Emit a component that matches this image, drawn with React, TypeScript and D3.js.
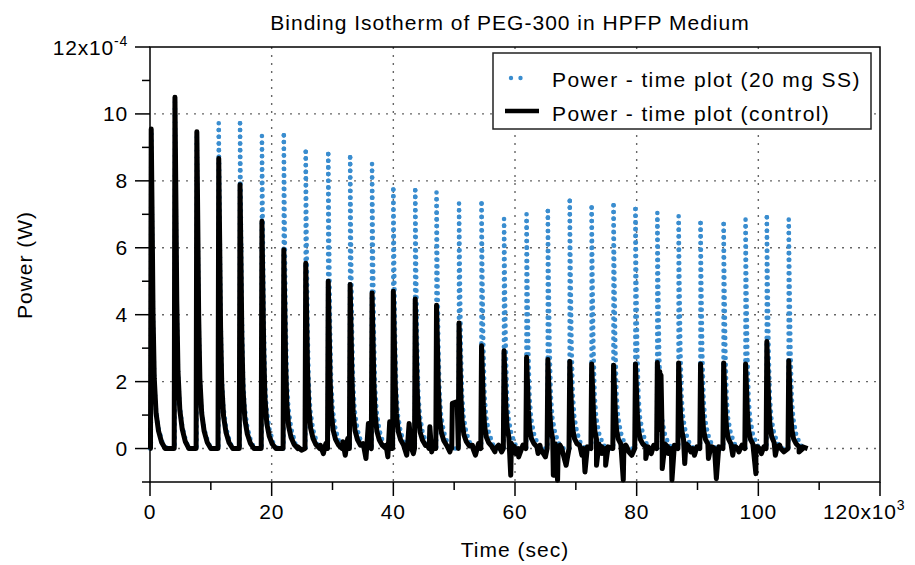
import { useEffect, useRef } from 'react'
import * as d3 from 'd3'

const W = 915
const H = 565
const FONT = "'Liberation Sans', Arial, Helvetica, sans-serif"

// injection times, x10^3 s
const injectionTimes = [
  0.2, 4.1, 7.7, 11.3, 14.8, 18.4, 22.0, 25.6, 29.3, 32.9,
  36.5, 40.0, 43.6, 47.1, 50.8, 54.5, 58.2, 61.9, 65.4, 69.0,
  72.6, 76.2, 79.8, 83.4, 86.9, 90.5, 94.3, 97.9, 101.4, 105.0,
]
// peak power, x10^-4 W
const controlPeaks = [
  9.55, 10.5, 9.47, 8.67, 7.88, 6.79, 5.94, 5.54, 5.0, 4.9,
  4.65, 4.7, 4.47, 4.28, 3.75, 3.07, 2.92, 2.73, 2.66, 2.6,
  2.53, 2.49, 2.53, 2.57, 2.56, 2.53, 2.56, 2.53, 3.2, 2.62,
]
const ssPeaks = [
  9.4, 10.35, 9.3, 9.72, 9.72, 9.34, 9.36, 8.87, 8.8, 8.7,
  8.5, 7.74, 7.72, 7.65, 7.32, 7.32, 6.86, 7.0, 7.1, 7.4,
  7.2, 7.27, 7.16, 7.04, 6.94, 6.74, 6.71, 6.84, 6.91, 6.84,
]
// shape of the decay after each injection (offset x10^3 s, fraction of peak)
const controlDecayOffsets = [0.15, 0.3, 0.5, 0.8, 1.2, 1.7, 2.3]
const controlDecayFractions = [0.72, 0.42, 0.22, 0.11, 0.055, 0.02, 0]
const ssDecayOffsets = [0.15, 0.3, 0.5, 0.75, 1.2, 1.9, 2.6]
const ssDecayFractions = [0.7, 0.42, 0.22, 0.13, 0.065, 0.015, 0]

// baseline wiggles and negative spikes of the control run
const controlNoise: [number, number][] = [
  [24.3, 0.05], [24.9, -0.05],
  [28.0, 0.1], [28.5, -0.15], [28.9, 0.15],
  [31.7, 0.2], [32.1, -0.2], [32.5, 0.3],
  [35.0, 0.15], [35.5, -0.3], [35.9, 0.75], [36.2, 0.05],
  [38.8, 0.1], [39.1, -0.25], [39.4, 0.8], [39.7, 0.0],
  [42.2, -0.2], [42.6, 0.75], [42.9, 0.05], [43.3, -0.15],
  [45.7, 0.1], [46.0, 0.65], [46.3, -0.1], [46.7, 0.2],
  [49.3, -0.1], [49.6, 0.0], [49.7, 1.35], [50.5, 1.4],
  [53.0, 0.1], [53.5, -0.2], [54.0, 0.15],
  [56.7, -0.1], [57.3, 0.1], [57.8, -0.1],
  [59.3, -0.8], [59.6, 0.05], [60.1, -0.15], [60.6, -0.25], [61.3, 0.1],
  [63.8, -0.15], [64.1, 0.1], [64.5, -0.1], [65.0, -0.25],
  [66.3, -0.8], [66.6, 0.05], [67.0, -0.95], [67.4, 0.1], [67.9, -0.15], [68.4, -0.5],
  [70.6, 0.1], [71.0, -0.2], [71.5, -0.7], [71.9, 0.05],
  [73.4, -0.5], [73.8, 0.1], [74.3, -0.15], [74.9, -0.5], [75.3, 0.05],
  [77.8, -0.94], [78.2, 0.1], [78.7, -0.1], [79.2, -0.2],
  [81.5, -0.3], [81.9, 0.05], [82.4, -0.15], [82.8, 0.1],
  [83.8, 2.3], [84.0, 2.2],
  [84.2, -0.6], [84.6, 0.05], [85.2, -0.15], [85.8, -0.94], [86.2, 0.1],
  [87.9, -0.45], [88.4, 0.1], [88.9, -0.1], [89.5, -0.2], [89.9, 0.05],
  [91.8, -0.3], [92.4, 0.05], [93.1, -0.9], [93.5, 0.05],
  [95.8, -0.2], [96.3, 0.05], [96.8, -0.1], [97.3, 0.1],
  [99.6, -0.75], [99.9, 0.05], [100.5, -0.15], [100.9, 0.05],
  [102.8, -0.2], [103.5, 0.1], [104.2, -0.1],
  [106.7, -0.1], [107.3, 0.05],
]
const controlEnd = 108.1
const ssEnd = 107.7

const xMajor = [0, 20, 40, 60, 80, 100, 120]
const xMinor = [10, 30, 50, 70, 90, 110]
const yMajor = [0, 2, 4, 6, 8, 10, 12]
const yMinor = [-1, 1, 3, 5, 7, 9, 11]
const xGrid = [20, 40, 60, 80, 100]
const yGrid = [0, 2, 4, 6, 8, 10]

const BLUE = '#3a8dcf'

function buildSeries(
  heights: number[],
  offsets: number[],
  fractions: number[],
  extra: [number, number][],
  end: number,
  lead: number,
): [number, number][] {
  const pts: [number, number][] = [[0, 0]]
  injectionTimes.forEach((t, i) => {
    pts.push([t - lead, 0])
    pts.push([t, heights[i]])
    offsets.forEach((o, k) => pts.push([t + o, heights[i] * fractions[k]]))
  })
  extra.forEach((p) => pts.push(p))
  pts.push([end, 0])
  return pts.sort((a, b) => a[0] - b[0])
}

export default function App() {
  const svgRef = useRef<SVGSVGElement>(null)

  useEffect(() => {
    const svgEl = svgRef.current
    if (!svgEl) return
    const svg = d3.select(svgEl)
    svg.selectAll('*').remove()

    const x = d3.scaleLinear().domain([0, 120]).range([150, 880])
    const y = d3.scaleLinear().domain([-1, 12]).range([482, 47])

    const text = (sel: any) =>
      sel.attr('font-family', FONT).attr('font-size', 21).attr('fill', '#000')

    // grid
    const grid = svg.append('g').attr('stroke', '#666').attr('stroke-width', 1.4).attr('stroke-dasharray', '2 6')
    yGrid.forEach((v) => {
      grid.append('line').attr('x1', x(0) + 4).attr('x2', x(120)).attr('y1', y(v)).attr('y2', y(v))
    })
    xGrid.forEach((v) => {
      grid.append('line').attr('y1', y(12)).attr('y2', y(-1)).attr('x1', x(v)).attr('x2', x(v))
    })

    const line = d3
      .line<[number, number]>()
      .x((d) => x(d[0]))
      .y((d) => y(d[1]))

    // 20 mg SS run: dotted, split at each peak top so the dots of the
    // rise and the decay stack on the same column
    const ss = buildSeries(ssPeaks, ssDecayOffsets, ssDecayFractions, [], ssEnd, 0.05)
    const tops = injectionTimes.map((t, i) => ss.findIndex((p) => p[0] === t && p[1] === ssPeaks[i]))
    const cuts = [0, ...tops, ss.length - 1]
    const P = 6.7
    const ssG = svg.append('g')
    for (let s = 0; s < cuts.length - 1; s++) {
      const seg = ss.slice(cuts[s], cuts[s + 1] + 1)
      const path = ssG
        .append('path')
        .attr('d', line(seg))
        .attr('fill', 'none')
        .attr('stroke', BLUE)
        .attr('stroke-width', 4.6)
        .attr('stroke-linecap', 'round')
      const len = (path.node() as SVGPathElement).getTotalLength()
      const last = s === cuts.length - 2
      const per = last ? P : len / Math.max(1, Math.round(len / P))
      path.attr('stroke-dasharray', `0 ${per}`)
    }

    // control run
    const control = buildSeries(controlPeaks, controlDecayOffsets, controlDecayFractions, controlNoise, controlEnd, 0.12)
    svg
      .append('path')
      .attr('d', line(control))
      .attr('fill', 'none')
      .attr('stroke', '#000')
      .attr('stroke-width', 5)
      .attr('stroke-linejoin', 'round')

    // frame and ticks
    const ax = svg.append('g').attr('stroke', '#000').attr('stroke-width', 1.5)
    ax.append('rect')
      .attr('x', x(0)).attr('y', y(12))
      .attr('width', x(120) - x(0)).attr('height', y(-1) - y(12))
      .attr('fill', 'none')
    yMajor.forEach((v) => ax.append('line').attr('x1', x(0) - 15).attr('x2', x(0)).attr('y1', y(v)).attr('y2', y(v)))
    yMinor.forEach((v) => ax.append('line').attr('x1', x(0) - 8).attr('x2', x(0)).attr('y1', y(v)).attr('y2', y(v)))
    xMajor.forEach((v) => ax.append('line').attr('y1', y(-1)).attr('y2', y(-1) + 14).attr('x1', x(v)).attr('x2', x(v)))
    xMinor.forEach((v) => ax.append('line').attr('y1', y(-1)).attr('y2', y(-1) + 8).attr('x1', x(v)).attr('x2', x(v)))

    // tick labels
    yMajor.forEach((v) => {
      const t = svg.append('text').call(text)
        .attr('x', 128).attr('y', y(v) + 7.5)
        .attr('text-anchor', 'end').attr('letter-spacing', 0.8)
      if (v === 12) {
        t.text('12x10')
        t.append('tspan').attr('font-size', 14).attr('dy', -9).text('-4')
      } else t.text(String(v))
    })
    xMajor.forEach((v) => {
      const t = svg.append('text').call(text).attr('y', 519).attr('letter-spacing', 0.8)
      if (v === 120) {
        t.attr('x', 823).attr('text-anchor', 'start').text('120x10')
        t.append('tspan').attr('font-size', 14).attr('dy', -9).text('3')
      } else t.attr('x', x(v)).attr('text-anchor', 'middle').text(String(v))
    })

    // titles
    svg.append('text').call(text)
      .attr('x', 510).attr('y', 30).attr('text-anchor', 'middle').attr('letter-spacing', 1)
      .text('Binding Isotherm of PEG-300 in HPFP Medium')
    svg.append('text').call(text)
      .attr('x', 515).attr('y', 557).attr('text-anchor', 'middle').attr('letter-spacing', 1)
      .text('Time (sec)')
    svg.append('text').call(text)
      .attr('transform', 'translate(32,265) rotate(-90)')
      .attr('text-anchor', 'middle').attr('letter-spacing', 1)
      .text('Power (W)')

    // legend
    const lg = svg.append('g')
    lg.append('rect').attr('x', 493).attr('y', 53).attr('width', 378).attr('height', 76)
      .attr('fill', '#fff').attr('stroke', '#222').attr('stroke-width', 1.5)
    lg.append('line').attr('x1', 511).attr('x2', 530).attr('y1', 78).attr('y2', 78)
      .attr('stroke', BLUE).attr('stroke-width', 4.4).attr('stroke-linecap', 'round')
      .attr('stroke-dasharray', '0 9.5')
    lg.append('text').call(text).attr('x', 552).attr('y', 86.5).attr('letter-spacing', 1.4)
      .text('Power - time plot (20 mg SS)')
    lg.append('line').attr('x1', 505).attr('x2', 539).attr('y1', 111).attr('y2', 111)
      .attr('stroke', '#000').attr('stroke-width', 4.5)
    lg.append('text').call(text).attr('x', 552).attr('y', 121).attr('letter-spacing', 1.4)
      .text('Power - time plot (control)')
  }, [])

  return (
    <svg
      ref={svgRef}
      width={W}
      height={H}
      style={{ position: 'absolute', left: 0, top: 0, background: '#fff' }}
    />
  )
}
